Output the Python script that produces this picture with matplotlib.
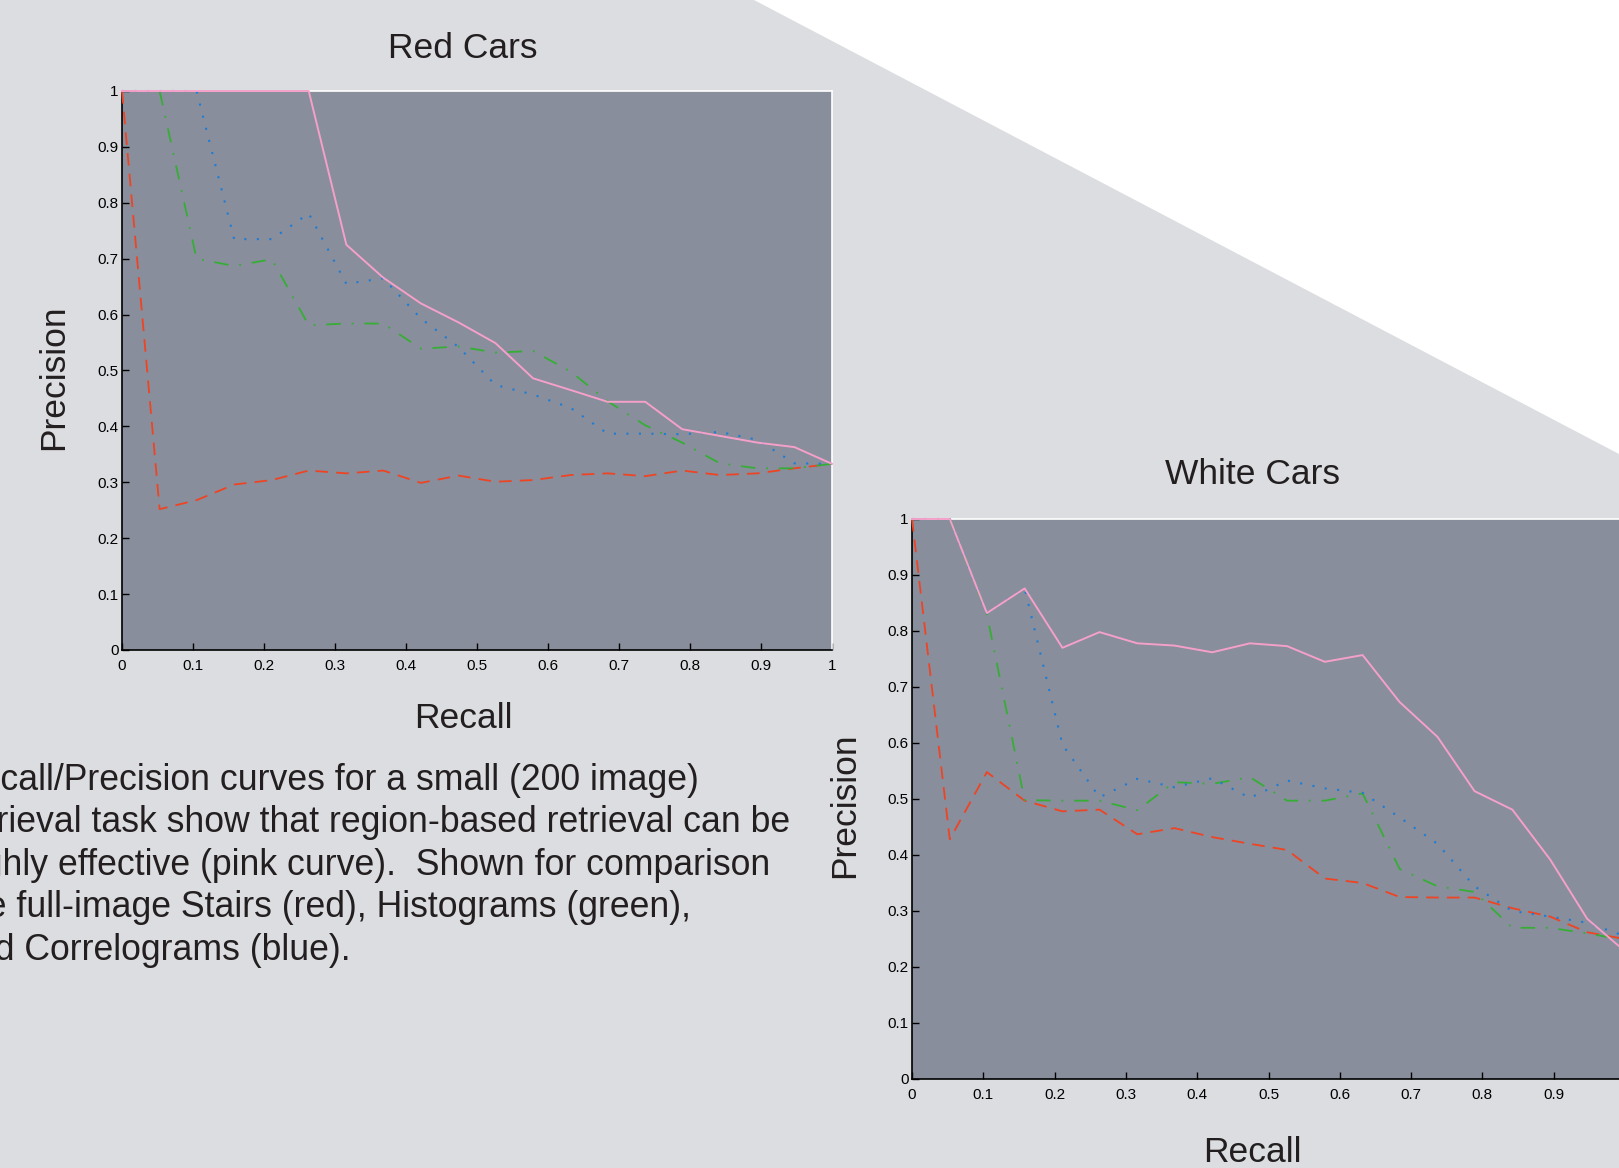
import numpy as np
import matplotlib.pyplot as plt
from matplotlib.patches import Polygon
from matplotlib.ticker import FormatStrFormatter, MultipleLocator

plt.rcParams['font.family'] = ['Liberation Sans', 'DejaVu Sans']

# recall points (k/19)
recall = [0, 0.053, 0.105, 0.158, 0.211, 0.263, 0.316, 0.368, 0.421, 0.474,
          0.526, 0.579, 0.632, 0.684, 0.737, 0.789, 0.842, 0.895, 0.947, 1.0]

# Red cars
red_regions = [1, 1, 1, 1, 1, 1, 0.725, 0.666, 0.62, 0.586,
               0.549, 0.486, 0.465, 0.444, 0.444, 0.395, 0.383, 0.371, 0.363, 0.333]
red_stairs = [1, 0.252, 0.268, 0.296, 0.304, 0.321, 0.316, 0.321, 0.299, 0.312,
              0.301, 0.304, 0.313, 0.316, 0.311, 0.321, 0.313, 0.316, 0.325, 0.333]
red_hist = [1, 1, 0.70, 0.687, 0.699, 0.581, 0.584, 0.584, 0.539, 0.543,
            0.532, 0.535, 0.498, 0.445, 0.402, 0.371, 0.334, 0.325, 0.325, 0.333]
red_corr = [1, 1, 1, 0.735, 0.735, 0.781, 0.655, 0.665, 0.593, 0.542,
            0.474, 0.457, 0.433, 0.387, 0.387, 0.386, 0.39, 0.376, 0.334, 0.333]

# White cars
white_regions = [1, 1, 0.832, 0.876, 0.770, 0.798, 0.778, 0.774, 0.762, 0.778,
                 0.773, 0.745, 0.757, 0.673, 0.611, 0.514, 0.481, 0.392, 0.286, 0.228]
white_stairs = [1, 0.428, 0.548, 0.497, 0.478, 0.481, 0.437, 0.448, 0.432, 0.42,
                0.409, 0.358, 0.35, 0.325, 0.324, 0.324, 0.305, 0.29, 0.262, 0.25]
white_hist = [1, 1, 0.83, 0.498, 0.497, 0.497, 0.48, 0.53, 0.527, 0.539,
              0.497, 0.497, 0.51, 0.375, 0.344, 0.334, 0.27, 0.27, 0.26, 0.248]
white_corr = [1, 1, 0.832, 0.876, 0.597, 0.503, 0.536, 0.521, 0.537, 0.502,
              0.533, 0.519, 0.511, 0.467, 0.42, 0.344, 0.30, 0.29, 0.279, 0.255]

caption = ["Recall/Precision curves for a small (200 image)",
           "retrieval task show that region-based retrieval can be",
           "highly effective (pink curve).  Shown for comparison",
           "are full-image Stairs (red), Histograms (green),",
           "and Correlograms (blue)."]

W, H = 1619, 1168
fig = plt.figure(figsize=(W / 100, H / 100), dpi=100)
fig.patch.set_facecolor('#dcdde0')

# white triangle in the background
tri = Polygon([(754 / W, 1), (1, 1), (1, 1 - 454 / H)], closed=True,
              transform=fig.transFigure, facecolor='white', edgecolor='none', zorder=0)
fig.patches.append(tri)

txt_col = '#231f20'
big = 25.5


def pr_axes(rect, regions, stairs, hist, corr):
    ax = fig.add_axes(rect)
    ax.set_facecolor('#888e9b')
    ax.plot(recall, stairs, color='#ef4424', lw=1.3, dashes=(7, 4.5))
    ax.plot(recall, hist, color='#36ae36', lw=1.3, dashes=(8, 6, 1, 6))
    ax.plot(recall, corr, color='#1c7cd6', lw=1.5, dashes=(1, 5))
    ax.plot(recall, regions, color='#f5a0ca', lw=1.4)
    ax.set_xlim(0, 1)
    ax.set_ylim(0, 1)
    ax.xaxis.set_major_locator(MultipleLocator(0.1))
    ax.yaxis.set_major_locator(MultipleLocator(0.1))
    fmt = FormatStrFormatter('%g')
    ax.xaxis.set_major_formatter(fmt)
    ax.yaxis.set_major_formatter(fmt)
    ax.tick_params(direction='in', length=5, width=1, labelsize=11, colors='black')
    ax.tick_params(axis='x', pad=6.5)
    ax.tick_params(axis='y', pad=2.5)
    for s in ['left', 'bottom']:
        ax.spines[s].set_color('black')
        ax.spines[s].set_linewidth(1.2)
    for s in ['top', 'right']:
        ax.spines[s].set_color('white')
        ax.spines[s].set_linewidth(1.2)
    for line in ax.lines:
        line.set_clip_on(False)
        line.set_zorder(3)
    return ax


pr_axes([122 / W, 1 - 650 / H, 710 / W, 559 / H],
        red_regions, red_stairs, red_hist, red_corr)
pr_axes([912 / W, 1 - 1079 / H, 713 / W, 560 / H],
        white_regions, white_stairs, white_hist, white_corr)

fig.text(463 / W, 1 - 49 / H, 'Red Cars', ha='center', va='center', fontsize=big, color=txt_col)
fig.text(463 / W, 1 - 718 / H, 'Recall', ha='center', va='center', fontsize=big, color=txt_col)
fig.text(54 / W, 1 - 377 / H, 'Precision', ha='center', va='center', rotation=90,
         fontsize=big, color=txt_col)

fig.text(1252 / W, 1 - 474 / H, 'White Cars', ha='center', va='center', fontsize=big, color=txt_col)
fig.text(1252 / W, 1 - 1152 / H, 'Recall', ha='center', va='center', fontsize=big, color=txt_col)
fig.text(845 / W, 1 - 805 / H, 'Precision', ha='center', va='center', rotation=90,
         fontsize=big, color=txt_col)

for i, line in enumerate(caption):
    fig.text(-45 / W, 1 - (780 + i * 42.6) / H, line, ha='left', va='center',
             fontsize=25.7, color=txt_col)

fig.savefig('out.png', dpi=100, facecolor=fig.get_facecolor())
